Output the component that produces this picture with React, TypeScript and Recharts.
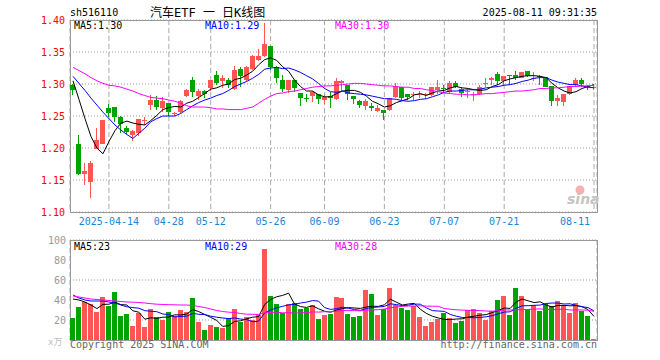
import React from 'react';
import { ComposedChart, Bar, Line, XAxis, YAxis, CartesianGrid, ReferenceArea } from 'recharts';

// 汽车ETF (sh516110) daily K-line, 2025-04-03 .. 2025-08-11
const YEAR = '2025';

const dates = [
  '04-03', '04-07', '04-08', '04-09', '04-10', '04-11', '04-14', '04-15', '04-16', '04-17',
  '04-18', '04-21', '04-22', '04-23', '04-24', '04-25', '04-28', '04-29', '04-30', '05-06',
  '05-07', '05-08', '05-09', '05-12', '05-13', '05-14', '05-15', '05-16', '05-19', '05-20',
  '05-21', '05-22', '05-23', '05-26', '05-27', '05-28', '05-29', '05-30', '06-03', '06-04',
  '06-05', '06-06', '06-09', '06-10', '06-11', '06-12', '06-13', '06-16', '06-17', '06-18',
  '06-19', '06-20', '06-23', '06-24', '06-25', '06-26', '06-27', '06-30', '07-01', '07-02',
  '07-03', '07-04', '07-07', '07-08', '07-09', '07-10', '07-11', '07-14', '07-15', '07-16',
  '07-17', '07-18', '07-21', '07-22', '07-23', '07-24', '07-25', '07-28', '07-29', '07-30',
  '07-31', '08-01', '08-04', '08-05', '08-06', '08-07', '08-08', '08-11',
];

const open = [
  1.298, 1.206, 1.160, 1.147, 1.198, 1.207, 1.262, 1.264, 1.248, 1.232,
  1.221, 1.224, 1.242, 1.267, 1.275, 1.263, 1.270, 1.253, 1.257, 1.282,
  1.306, 1.282, 1.289, 1.293, 1.314, 1.304, 1.306, 1.292, 1.324, 1.306,
  1.323, 1.337, 1.344, 1.359, 1.327, 1.307, 1.290, 1.306, 1.286, 1.278,
  1.281, 1.284, 1.275, 1.281, 1.276, 1.301, 1.298, 1.281, 1.273, 1.266,
  1.266, 1.258, 1.259, 1.259, 1.280, 1.295, 1.284, 1.283, 1.283, 1.284,
  1.283, 1.291, 1.294, 1.288, 1.302, 1.292, 1.288, 1.284, 1.285, 1.300,
  1.306, 1.316, 1.305, 1.314, 1.314, 1.310, 1.320, 1.309, 1.312, 1.311,
  1.297, 1.273, 1.272, 1.285, 1.298, 1.306, 1.297, 1.293,
];
const high = [
  1.300, 1.220, 1.177, 1.179, 1.232, 1.244, 1.269, 1.264, 1.250, 1.234,
  1.228, 1.246, 1.248, 1.283, 1.281, 1.279, 1.271, 1.257, 1.275, 1.292,
  1.311, 1.292, 1.291, 1.306, 1.321, 1.314, 1.309, 1.328, 1.326, 1.328,
  1.345, 1.354, 1.395, 1.359, 1.328, 1.314, 1.307, 1.306, 1.286, 1.284,
  1.289, 1.285, 1.283, 1.288, 1.310, 1.306, 1.298, 1.281, 1.275, 1.276,
  1.270, 1.267, 1.259, 1.278, 1.301, 1.296, 1.285, 1.287, 1.289, 1.286,
  1.296, 1.306, 1.298, 1.304, 1.305, 1.293, 1.291, 1.288, 1.298, 1.309,
  1.311, 1.318, 1.312, 1.314, 1.321, 1.319, 1.320, 1.318, 1.314, 1.311,
  1.297, 1.283, 1.284, 1.297, 1.310, 1.309, 1.298, 1.297,
];
const low = [
  1.283, 1.158, 1.142, 1.122, 1.198, 1.206, 1.248, 1.241, 1.223, 1.222,
  1.211, 1.218, 1.236, 1.259, 1.259, 1.257, 1.250, 1.250, 1.255, 1.280,
  1.280, 1.275, 1.278, 1.289, 1.298, 1.293, 1.293, 1.291, 1.296, 1.304,
  1.322, 1.336, 1.342, 1.322, 1.302, 1.288, 1.286, 1.288, 1.265, 1.272,
  1.272, 1.269, 1.269, 1.263, 1.275, 1.289, 1.275, 1.269, 1.263, 1.260,
  1.258, 1.257, 1.244, 1.258, 1.278, 1.275, 1.275, 1.275, 1.278, 1.276,
  1.281, 1.285, 1.288, 1.285, 1.293, 1.280, 1.278, 1.274, 1.283, 1.296,
  1.298, 1.298, 1.298, 1.298, 1.307, 1.309, 1.311, 1.305, 1.298, 1.295,
  1.266, 1.266, 1.266, 1.283, 1.296, 1.295, 1.291, 1.290,
];
const close = [
  1.290, 1.159, 1.164, 1.176, 1.212, 1.243, 1.255, 1.249, 1.238, 1.225,
  1.227, 1.245, 1.243, 1.275, 1.264, 1.274, 1.257, 1.254, 1.273, 1.291,
  1.288, 1.289, 1.285, 1.306, 1.301, 1.310, 1.298, 1.322, 1.313, 1.326,
  1.343, 1.344, 1.363, 1.327, 1.309, 1.292, 1.307, 1.293, 1.278, 1.277,
  1.288, 1.277, 1.280, 1.278, 1.304, 1.304, 1.285, 1.277, 1.267, 1.274,
  1.263, 1.262, 1.255, 1.278, 1.297, 1.278, 1.279, 1.285, 1.284, 1.285,
  1.295, 1.295, 1.293, 1.301, 1.296, 1.286, 1.289, 1.285, 1.295, 1.301,
  1.310, 1.305, 1.312, 1.313, 1.309, 1.319, 1.312, 1.310, 1.311, 1.296,
  1.274, 1.278, 1.284, 1.297, 1.306, 1.300, 1.295, 1.295,
];

const ma5 = [
  1.305, 1.276, 1.246, 1.218, 1.200, 1.191, 1.210, 1.227, 1.239, 1.242,
  1.239, 1.237, 1.236, 1.243, 1.251, 1.260, 1.263, 1.265, 1.264, 1.270,
  1.273, 1.279, 1.285, 1.292, 1.294, 1.298, 1.300, 1.307, 1.309, 1.314,
  1.320, 1.330, 1.338, 1.341, 1.337, 1.327, 1.320, 1.306, 1.296, 1.289,
  1.289, 1.283, 1.280, 1.280, 1.285, 1.289, 1.290, 1.290, 1.287, 1.281,
  1.273, 1.269, 1.264, 1.266, 1.271, 1.274, 1.277, 1.283, 1.285, 1.282,
  1.286, 1.289, 1.290, 1.294, 1.296, 1.294, 1.293, 1.291, 1.290, 1.291,
  1.296, 1.299, 1.305, 1.308, 1.310, 1.312, 1.313, 1.313, 1.312, 1.310,
  1.301, 1.294, 1.289, 1.286, 1.288, 1.293, 1.296, 1.299,
];
const ma10 = [
  1.312, 1.301, 1.290, 1.278, 1.267, 1.256, 1.246, 1.236, 1.228, 1.221,
  1.215, 1.223, 1.231, 1.241, 1.246, 1.250, 1.250, 1.250, 1.254, 1.260,
  1.266, 1.271, 1.275, 1.278, 1.282, 1.285, 1.290, 1.296, 1.300, 1.304,
  1.309, 1.315, 1.323, 1.325, 1.326, 1.324, 1.325, 1.322, 1.318, 1.313,
  1.308, 1.301, 1.293, 1.288, 1.287, 1.289, 1.286, 1.285, 1.284, 1.283,
  1.281, 1.279, 1.277, 1.277, 1.276, 1.274, 1.273, 1.274, 1.276, 1.277,
  1.280, 1.283, 1.287, 1.289, 1.289, 1.290, 1.291, 1.291, 1.292, 1.294,
  1.295, 1.296, 1.298, 1.299, 1.301, 1.304, 1.306, 1.309, 1.310, 1.310,
  1.306, 1.303, 1.301, 1.299, 1.299, 1.297, 1.295, 1.294,
];
const ma30 = [
  1.326, 1.321, 1.316, 1.310, 1.305, 1.301, 1.298, 1.297, 1.295, 1.292,
  1.289, 1.285, 1.282, 1.279, 1.278, 1.277, 1.275, 1.273, 1.270, 1.266,
  1.264, 1.264, 1.264, 1.263, 1.261, 1.261, 1.260, 1.260, 1.260, 1.262,
  1.264, 1.270, 1.276, 1.281, 1.285, 1.286, 1.288, 1.289, 1.291, 1.293,
  1.295, 1.296, 1.297, 1.297, 1.298, 1.299, 1.300, 1.301, 1.301, 1.300,
  1.299, 1.298, 1.297, 1.297, 1.296, 1.295, 1.295, 1.293, 1.293, 1.291,
  1.290, 1.288, 1.286, 1.285, 1.284, 1.284, 1.283, 1.283, 1.284, 1.285,
  1.285, 1.286, 1.287, 1.288, 1.289, 1.289, 1.290, 1.291, 1.293, 1.293,
  1.294, 1.294, 1.295, 1.296, 1.296, 1.297, 1.297, 1.298,
];

// volume, 万手
const volume = [
  22, 33, 38, 36, 28, 43, 34, 48, 24, 26,
  14, 27, 13, 31, 23, 20, 28, 24, 30, 28,
  42, 18, 10, 15, 13, 12, 22, 31, 18, 23,
  20, 25, 91, 44, 36, 27, 36, 37, 31, 32,
  35, 21, 25, 26, 43, 42, 26, 23, 24, 50,
  46, 25, 31, 52, 35, 32, 30, 34, 23, 14,
  18, 21, 27, 22, 17, 19, 30, 31, 27, 20,
  29, 40, 44, 25, 52, 44, 31, 35, 29, 36,
  34, 39, 35, 27, 37, 29, 24, 1,
];
const volMa5 = [
  41, 40, 38, 35, 31.4, 35.6, 35.8, 37.8, 35.4, 35.0,
  29.2, 27.8, 20.8, 22.2, 21.6, 22.8, 23.0, 25.2, 25.0, 26.0,
  30.4, 28.4, 25.6, 22.6, 19.6, 13.6, 14.4, 18.6, 19.2, 21.2,
  22.8, 23.4, 35.4, 40.6, 43.2, 44.6, 46.8, 36.0, 33.4, 32.6,
  34.2, 31.2, 28.8, 27.8, 30.0, 31.4, 32.4, 32.0, 31.6, 33.0,
  33.8, 33.6, 35.2, 40.8, 37.8, 35.0, 36.0, 36.6, 30.8, 26.6,
  23.8, 22.0, 20.6, 20.4, 21.0, 21.2, 23.0, 23.8, 24.8, 25.4,
  27.4, 29.4, 32.0, 31.6, 38.0, 41.0, 39.2, 37.4, 38.2, 35.0,
  33.0, 34.6, 34.6, 34.2, 34.4, 33.4, 30.4, 23.6,
];
const volMa10 = [
  45, 42, 40, 39, 39, 39, 38, 37, 35, 33.2,
  32.4, 31.8, 29.3, 28.8, 28.3, 26.0, 25.4, 23.0, 23.6, 23.8,
  26.6, 25.7, 25.4, 23.8, 22.8, 22.0, 21.4, 22.1, 20.9, 20.4,
  18.2, 18.9, 27.0, 29.9, 32.2, 33.7, 35.1, 35.7, 37.0, 37.9,
  39.4, 39.0, 32.4, 30.6, 31.3, 32.8, 31.8, 30.4, 29.7, 31.5,
  32.6, 33.0, 33.6, 36.2, 35.4, 34.4, 34.8, 35.9, 35.8, 32.2,
  29.4, 29.0, 28.6, 25.6, 23.8, 22.5, 22.5, 22.2, 22.6, 23.2,
  24.3, 26.2, 27.9, 28.2, 31.7, 34.2, 34.3, 34.7, 34.9, 36.5,
  37.0, 36.9, 36.0, 36.2, 34.7, 33.2, 32.5, 29.1,
];
const volMa30 = [
  44, 43, 42, 41, 40.5, 40, 39.5, 39, 38.5, 38,
  37.8, 37.5, 37, 36.3, 35.8, 35.5, 35.3, 35.2, 35, 35,
  34.5, 33.5, 32.5, 31, 29.5, 28.5, 27.8, 27.5, 26.5, 25.8,
  25.7, 25.5, 27.2, 27.5, 27.8, 27.2, 27.3, 26.9, 27.2, 27.4,
  28.1, 27.9, 28.3, 28.1, 28.8, 29.5, 29.4, 29.4, 29.2, 29.9,
  30.1, 30.3, 31.0, 32.2, 33.0, 33.6, 33.9, 34.0, 34.2, 33.9,
  33.8, 33.7, 31.5, 30.8, 30.2, 29.9, 29.7, 29.5, 29.4, 29.0,
  28.8, 29.4, 30.0, 30.0, 30.3, 30.4, 30.5, 30.9, 31.1, 30.6,
  30.2, 30.7, 30.8, 30.0, 30.1, 30.0, 29.8, 28.7,
];

const dateTicks = ['04-14', '04-28', '05-12', '05-26', '06-09', '06-23', '07-07', '07-21', '08-11'];
const priceTicks = [1.10, 1.15, 1.20, 1.25, 1.30, 1.35, 1.40];
const volTicks = [0, 20, 40, 60, 80, 100];

const RED = '#ff5555';
const GREEN = '#00a400';
const MONO = '"DejaVu Sans Mono", "Liberation Mono", monospace';
const CJK = '"DejaVu Sans Mono", "Noto Sans CJK SC", sans-serif';

const rows = dates.map((d, i) => ({
  d,
  o: open[i],
  h: high[i],
  l: low[i],
  c: close[i],
  ma5: ma5[i],
  ma10: ma10[i],
  ma30: ma30[i],
  v: volume[i],
  vma5: volMa5[i],
  vma10: volMa10[i],
  vma30: volMa30[i],
}));

const last = (a: number[]) => a[a.length - 1];

function Candle(props: any) {
  const { x, y, width, height, payload } = props;
  if (x == null || y == null) return null;
  const { o, c, h, l } = payload;
  const color = c >= o ? RED : GREEN;
  const top = Math.min(y, y + height);
  const span = Math.abs(height);
  const toY = (v: number) => top + ((h - v) / (h - l || 1)) * span;
  const bx = Math.round(x + width / 2 - 2.5);
  const yTop = toY(Math.max(o, c));
  const yBot = toY(Math.min(o, c));
  return (
    <g shapeRendering="crispEdges">
      <line x1={bx + 2.5} x2={bx + 2.5} y1={top} y2={top + span} stroke={color} />
      <rect x={bx} y={yTop} width={5} height={Math.max(1, yBot - yTop)} fill={color} />
    </g>
  );
}

function VolBar(props: any) {
  const { x, y, width, height, payload } = props;
  if (x == null || y == null) return null;
  const bx = Math.round(x + width / 2 - 2.5);
  return (
    <rect
      x={bx}
      y={Math.min(y, y + height)}
      width={5}
      height={Math.abs(height)}
      fill={payload.c >= payload.o ? RED : GREEN}
      shapeRendering="crispEdges"
    />
  );
}

function DateTick(props: any) {
  const { x, y, payload } = props;
  const v = payload.value as string;
  const isFirst = v === dateTicks[0];
  const isLast = v === dateTicks[dateTicks.length - 1];
  return (
    <text
      x={isLast ? x - 4 : x}
      y={y + 13}
      textAnchor={isLast ? 'end' : 'middle'}
      fill="#1a86d6"
      fontSize={10}
      fontFamily={MONO}
    >
      {isFirst ? `${YEAR}-${v}` : v}
    </text>
  );
}

export default function App() {
  return (
    <div style={{ position: 'absolute', left: 0, top: 0, width: 660, height: 360, background: '#fff' }}>
      {/* price panel */}
      <div style={{ position: 'absolute', left: 0, top: 0 }}>
        <ComposedChart width={660} height={232} data={rows} margin={{ top: 20, right: 63, bottom: 0, left: 0 }}>
          <CartesianGrid vertical={false} stroke="#999" strokeDasharray="1 2" />
          <CartesianGrid horizontal={false} stroke="#aaa" strokeDasharray="5 3" />
          <XAxis
            dataKey="d"
            ticks={dateTicks}
            interval={0}
            height={20}
            tickSize={0}
            tickMargin={0}
            axisLine={false}
            tickLine={false}
            tick={<DateTick />}
          />
          <YAxis
            domain={[1.1, 1.4]}
            ticks={priceTicks}
            allowDataOverflow
            width={70}
            tickSize={0}
            tickMargin={5}
            axisLine={false}
            tickLine={false}
            tickFormatter={(v: number) => v.toFixed(2)}
            tick={{ fill: '#ff0000', fontSize: 10, fontFamily: MONO }}
          />
          <ReferenceArea y1={1.1} y2={1.4} fill="none" stroke="#999" shapeRendering="crispEdges" />
          <Bar dataKey={(r: any) => [r.l, r.h]} barSize={5} shape={<Candle />} isAnimationActive={false} />
          <Line dataKey="ma5" stroke="#000" strokeWidth={1} dot={false} activeDot={false} isAnimationActive={false} />
          <Line dataKey="ma10" stroke="#0000ff" strokeWidth={1} dot={false} activeDot={false} isAnimationActive={false} />
          <Line dataKey="ma30" stroke="#ff00ff" strokeWidth={1} dot={false} activeDot={false} isAnimationActive={false} />
        </ComposedChart>
      </div>

      {/* volume panel */}
      <div style={{ position: 'absolute', left: 0, top: 232 }}>
        <ComposedChart width={660} height={128} data={rows} margin={{ top: 8, right: 63, bottom: 0, left: 0 }}>
          <CartesianGrid vertical={false} stroke="#999" strokeDasharray="1 2" />
          <CartesianGrid horizontal={false} stroke="#aaa" strokeDasharray="5 3" />
          <XAxis
            dataKey="d"
            ticks={dateTicks}
            interval={0}
            height={20}
            tickSize={0}
            axisLine={false}
            tickLine={false}
            tick={false}
          />
          <YAxis
            domain={[0, 100]}
            ticks={volTicks}
            allowDataOverflow
            width={70}
            tickSize={0}
            tickMargin={4}
            axisLine={false}
            tickLine={false}
            tickFormatter={(v: number) => (v === 0 ? '' : String(v))}
            tick={{ fill: '#999', fontSize: 10, fontFamily: MONO }}
          />
          <ReferenceArea y1={0} y2={100} fill="none" stroke="#999" shapeRendering="crispEdges" />
          <Bar dataKey="v" barSize={5} shape={<VolBar />} isAnimationActive={false} />
          <Line dataKey="vma5" stroke="#000" strokeWidth={1} dot={false} activeDot={false} isAnimationActive={false} />
          <Line dataKey="vma10" stroke="#0000ff" strokeWidth={1} dot={false} activeDot={false} isAnimationActive={false} />
          <Line dataKey="vma30" stroke="#ff00ff" strokeWidth={1} dot={false} activeDot={false} isAnimationActive={false} />
        </ComposedChart>
      </div>

      {/* titles, MA readouts, footer */}
      <svg
        width={660}
        height={360}
        style={{ position: 'absolute', left: 0, top: 0, pointerEvents: 'none' }}
        fontFamily={MONO}
        fontSize={10}
      >
        <text x={70} y={16} fill="#000">sh516110</text>
        <text x={150} y={17} fill="#000" fontSize={12} fontFamily={CJK}>汽车ETF 一 日K线图</text>
        <text x={597} y={16} fill="#000" textAnchor="end">2025-08-11 09:31:35</text>

        <text x={74} y={29} fill="#000">MA5:{last(ma5).toFixed(2)}</text>
        <text x={205} y={29} fill="#0000ff">MA10:{last(ma10).toFixed(2)}</text>
        <text x={335} y={29} fill="#ff00ff">MA30:{last(ma30).toFixed(2)}</text>

        <text x={74} y={250} fill="#000">MA5:{Math.floor(last(volMa5))}</text>
        <text x={205} y={250} fill="#0000ff">MA10:{Math.floor(last(volMa10))}</text>
        <text x={335} y={250} fill="#ff00ff">MA30:{Math.floor(last(volMa30))}</text>

        <circle cx={580} cy={190} r={4.5} fill="#f6b0b0" />
        <text x={567} y={204} fill="#c4c4c4" fontSize={14} fontStyle="italic" fontWeight="bold" fontFamily="DejaVu Sans">sina</text>

        <text x={48} y={345} fill="#bbb" fontSize={9} fontFamily={CJK}>x万</text>
        <text x={70} y={348} fill="#666">Copyright 2025 SINA.COM</text>
        <text x={597} y={348} fill="#666" textAnchor="end">http://finance.sina.com.cn</text>
      </svg>
    </div>
  );
}
